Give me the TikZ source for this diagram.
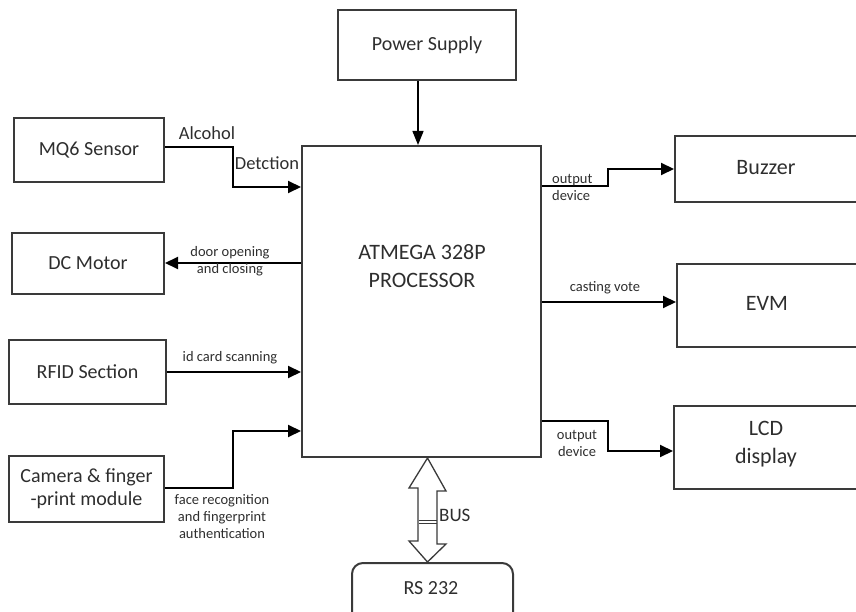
\documentclass[tikz,border=0pt]{standalone}
\usepackage{fontspec}
\setmainfont{Carlito}
\usetikzlibrary{arrows.meta}
\definecolor{boxline}{HTML}{3A3A3A}
\definecolor{txt}{HTML}{2E2E2E}
\tikzset{
  box/.style={draw=boxline, line width=2pt, inner sep=0pt, text=txt, font=\fontsize{20}{24}\selectfont},
  bigbox/.style={draw=boxline, line width=2pt, inner sep=0pt},
  bigtxt/.style={text=txt, font=\fontsize{22}{28}\selectfont, inner sep=0pt, align=center},
  lbl/.style={text=txt, font=\fontsize{14.5}{17}\selectfont, inner sep=0pt, align=center},
  arr/.style={draw=black, line width=2pt, -{Triangle[length=13pt,width=12pt]}},
  thinarr/.style={draw=black, line width=1.3pt, -{Triangle[length=14pt,width=11pt]}}
}
\begin{document}
\begin{tikzpicture}[x=1pt,y=-1pt]
\useasboundingbox (0,0) rectangle (856,612);
\clip (0,0) rectangle (856,612);
% blocks
\node[box, minimum width=178pt, minimum height=70pt] (power) at (427,45) {Power Supply};
\node[bigbox, minimum width=239pt, minimum height=311pt] (proc) at (421.5,301.5) {};
\node[bigtxt] (proctxt) at (422,266) {ATMEGA 328P\\PROCESSOR};
\node[box, minimum width=150pt, minimum height=64pt] (mq6) at (89,150) {MQ6 Sensor};
\node[box, minimum width=152pt, minimum height=61pt] (dcm) at (88,263.5) {DC Motor};
\node[box, minimum width=157pt, minimum height=64pt] (rfid) at (87.5,372) {RFID Section};
\node[box, minimum width=155pt, minimum height=66pt, align=center, font=\fontsize{20}{23}\selectfont] (cam) at (86.5,489) {Camera \& finger\\-print module};
\node[bigbox, minimum width=200pt, minimum height=66pt] (buzzer) at (775,169) {};
\node[bigtxt] (buzzertxt) at (766,168) {Buzzer};
\node[bigbox, minimum width=198pt, minimum height=83pt] (evm) at (776,305.5) {};
\node[bigtxt] (evmtxt) at (767,303) {EVM};
\node[bigbox, minimum width=201pt, minimum height=83pt] (lcd) at (774.5,447.5) {};
\node[bigtxt] (lcdtxt) at (766,444) {LCD\\display};
\node[box, rounded corners=11pt, minimum width=161pt, minimum height=70pt] (rs) at (432.5,598) {};
\node[text=txt, font=\fontsize{20}{24}\selectfont, inner sep=0pt] (rstxt) at (431,588) {RS 232};
% connectors
\draw[thinarr] (power.south -| 418,0) -- (proc.north -| 418,0);
\draw[arr] (mq6.east |- 0,147) -| (233,187) -- (proc.west |- 0,187);
\draw[arr] (proc.west |- 0,263) -- (dcm.east |- 0,263);
\draw[arr] (rfid.east |- 0,372) -- (proc.west |- 0,372);
\draw[arr] (cam.east |- 0,488) -| (233,431) -- (proc.west |- 0,431);
\draw[arr] (proc.east |- 0,186) -| (608,169) -- (buzzer.west |- 0,169);
\draw[arr] (proc.east |- 0,302) -- (evm.west |- 0,302);
\draw[arr] (proc.east |- 0,421) -| (608,451) -- (lcd.west |- 0,451);
% bus double arrow
\coordinate (bustop) at (proc.south -| 427.5,0);
\coordinate (busbot) at (rs.north -| 427.5,0);
\draw[draw=boxline, line width=1.3pt, fill=white]
  (bustop) -- ++(18.5,33) -- ++(-9,0) -- ++(0,53) -- ++(9,0) -- (busbot)
  -- ++(-18.5,-21) -- ++(9,0) -- ++(0,-53) -- ++(-9,0) -- cycle;
\draw[draw=boxline, line width=1pt] (418.5,520) -- (436.5,520) (418.5,523.5) -- (436.5,523.5);
\node[text=txt, font=\fontsize{19}{22}\selectfont, inner sep=0pt, anchor=west] (bus) at (439,515) {BUS};
% labels
\node[text=txt, font=\fontsize{18.5}{22}\selectfont, inner sep=0pt] (alc) at (207,133) {Alcohol};
\node[text=txt, font=\fontsize{18.5}{22}\selectfont, inner sep=0pt] (det) at (267,163) {Detction};
\node[lbl] (door) at (230,261) {door opening\\and closing};
\node[lbl] (idc) at (230,358) {id card scanning};
\node[lbl] (face) at (222,517) {face recognition\\and fingerprint\\authentication};
\node[lbl, align=left, anchor=west] (out1) at (552,187) {output\\device};
\node[lbl] (cast) at (605,288) {casting vote};
\node[lbl] (out2) at (577,443) {output\\device};
\end{tikzpicture}
\end{document}
